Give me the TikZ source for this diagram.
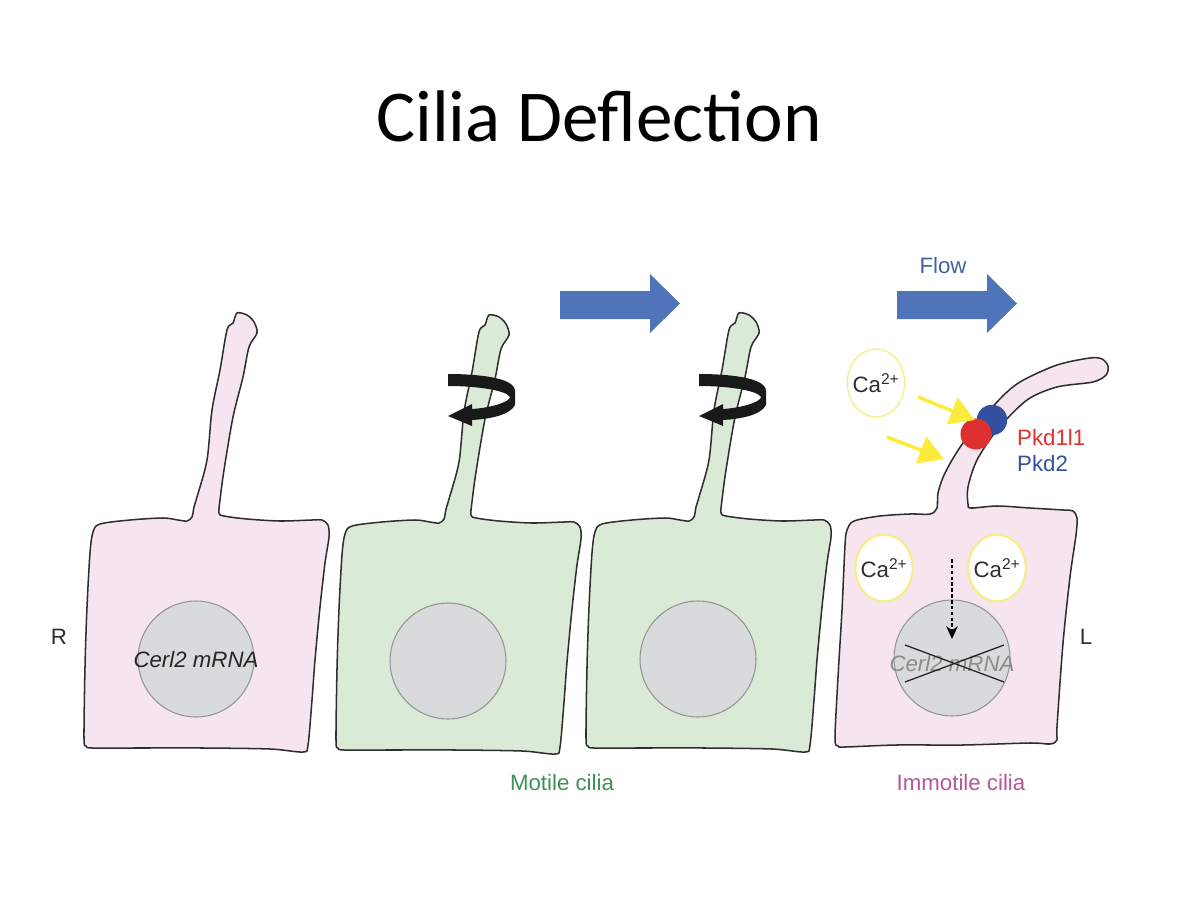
\documentclass[tikz,border=0pt]{standalone}
\usepackage{fontspec}
\setmainfont{Liberation Sans}
\newfontfamily\titlefont{Carlito}
\usetikzlibrary{shapes.geometric,arrows.meta}
\definecolor{cellpink}{HTML}{F6E5EE}
\definecolor{cellgreen}{HTML}{DAEAD6}
\definecolor{nucleusgrey}{HTML}{D9DADC}
\definecolor{flowblue}{HTML}{4F74BA}
\definecolor{caYellow}{HTML}{FBEB3C}
\definecolor{ringYellow}{HTML}{F6EE8E}
\definecolor{outlineInk}{HTML}{2E2E2E}
\definecolor{pkdred}{HTML}{DE3030}
\definecolor{pkdblue}{HTML}{33509F}
\definecolor{motilegreen}{HTML}{3E9156}
\definecolor{immotilepink}{HTML}{B3569A}
\tikzset{
  cellwall/.style={draw=outlineInk,line width=1.3pt,line join=round},
  nucleus/.style={circle,draw=black!42,fill=nucleusgrey,line width=0.9pt,minimum size=99pt,inner sep=0pt},
  flowarrow/.style={fill=flowblue,draw=none},
  spin/.style={fill=black!90,draw=none},
  caoutside/.style={ellipse,draw=ringYellow,fill=white,line width=1.2pt,minimum width=49pt,minimum height=58pt,inner sep=0pt},
  cainside/.style={ellipse,draw=ringYellow,fill=white,line width=1.9pt,minimum width=49pt,minimum height=57pt,inner sep=0pt},
  influx/.style={draw=caYellow,line width=3pt,-{Triangle[length=21pt,width=24pt,fill=caYellow]}},
  lbl/.style={font=\fontsize{19pt}{22pt}\selectfont,inner sep=0pt,text=black!82},
  mrna/.style={font=\fontsize{19pt}{22pt}\selectfont\itshape,inner sep=0pt},
}
% Outline of an upright cell with its straight cilium
\newcommand{\uprightcell}{
  plot[smooth cycle,tension=0.5] coordinates {
    (237,313) (247,315) (254,322) (257,333) (249,347) (243,377) (233,417) (224,470)
    (220,500) (219,513) (224,516) (247,519) (280,521) (312,520) (322,520) (328,525) (329,537)
    (325,563) (320,607) (315,660) (312,700) (308,745) (303,752) (270,749) (203,748)
    (137,748) (92,748) (86,746) (84,738) (85,667) (87,607) (90,553) (93,532) (100,524)
    (130,520) (163,518) (178,520) (187,521) (192,517) (194,507) (197,497) (207,460)
    (212,410) (220,370) (227,330) (233,323)}}
% Rotation arrow around a motile cilium
\newcommand{\spinarrow}{
  (448,374) .. controls (475,374) and (515,377) .. (515,391)
  -- (515,405) .. controls (510,415) and (490,419) .. (472,420)
  -- (472,426) -- (448,416) -- (472,404) -- (472,409)
  .. controls (490,408) and (510,402) .. (510,397)
  .. controls (507,391) and (480,386) .. (448,386) -- cycle}
% Flow arrow pointing to the right, with its tail's left end at the origin
\newcommand{\flowshape}{
  (0,291) -- (90,291) -- (90,274) -- (120,303.5) -- (90,333) -- (90,319) -- (0,319) -- cycle}
% Outline of the cell whose cilium is bent by the flow
\newcommand{\bentcell}{
  plot[smooth cycle,tension=0.5] coordinates {
    (937,508) (938,493) (945,473) (963,443) (997,402) (1020,382) (1057,365)
    (1090,358) (1102,359) (1108,366) (1106,375) (1093,382) (1057,387) (1027,400) (997,430)
    (977,460) (968,487) (968,504) (971,508) (997,506) (1030,508) (1063,510) (1073,511) (1077,518)
    (1076,535) (1070,577) (1063,643) (1057,727) (1057,740) (1050,744) (1030,743) (963,745)
    (897,745) (845,747) (838,746) (835,738) (838,677) (842,610) (845,545) (847,530) (854,521)
    (880,516) (910,514) (930,514)}}
\begin{document}
\begin{tikzpicture}[x=0.03cm,y=-0.03cm]
\useasboundingbox (0,0) rectangle (1200,900);

\node[font=\titlefont\fontsize{62.4pt}{66pt}\selectfont,inner sep=0pt,text=black] (title) at (599,116) {Cilia Deflection};

% Left-most cell
\fill[cellpink] \uprightcell;
\draw[cellwall] \uprightcell;
\node[nucleus] (nucA) at (196,659) {};
\node[mrna,text=black!85] (mrnaA) at (196,660) {Cerl2 mRNA};

% Two cells with motile cilia
\begin{scope}[shift={(252,2)}]
  \fill[cellgreen] \uprightcell;
  \draw[cellwall] \uprightcell;
\end{scope}
\node[nucleus] (nucB) at (448,661) {};
\fill[spin] \spinarrow;

\begin{scope}[shift={(502,0)}]
  \fill[cellgreen] \uprightcell;
  \draw[cellwall] \uprightcell;
\end{scope}
\node[nucleus] (nucC) at (698,659) {};
\begin{scope}[shift={(251,0)}]
  \fill[spin] \spinarrow;
\end{scope}

% Flow arrows
\begin{scope}[shift={(560,0)}]
  \fill[flowarrow] \flowshape;
\end{scope}
\begin{scope}[shift={(897,0)}]
  \fill[flowarrow] \flowshape;
\end{scope}
\node[lbl,text=flowblue!85!black] (flow) at (943,266) {Flow};

% Right-most cell with the bent cilium
\fill[cellpink] \bentcell;
\draw[cellwall] \bentcell;

\node[nucleus] (nucD) at (952,658) {};
\node[mrna,text=black!45] (mrnaD) at (952,664) {Cerl2 mRNA};
\coordinate (crossTL) at (905,645);
\coordinate (crossBR) at (1004,682);
\coordinate (crossBL) at (905,682);
\coordinate (crossTR) at (1004,645);
\draw[line width=1.1pt,black!85] (crossTL) -- (crossBR);
\draw[line width=1.1pt,black!85] (crossBL) -- (crossTR);

% Calcium pools
\node[cainside] (ringIL) at (884,568) {};
\node[lbl] (caIL) at (ringIL) {Ca\textsuperscript{2+}};
\node[cainside] (ringIR) at (997,568) {};
\node[lbl] (caIR) at (ringIR) {Ca\textsuperscript{2+}};
\node[caoutside] (ringO) at (876,383) {};
\node[lbl] (caO) at (ringO) {Ca\textsuperscript{2+}};

\coordinate (decayFrom) at (952,559);
\coordinate (decayTo) at (952,639);
\draw[densely dashed,line width=1pt,black,-{Stealth[length=11pt,width=10pt]}] (decayFrom) -- (decayTo);

% Channel subunits on the cilium
\node[circle,fill=pkdblue,minimum size=26pt,inner sep=0pt] (pkdB) at (992,420) {};
\node[circle,fill=pkdred,minimum size=26.5pt,inner sep=0pt] (pkdR) at (976,434) {};

% Calcium influx arrows
\coordinate (inA) at (918,397);
\coordinate (inAend) at (975,420);
\coordinate (inB) at (887,437);
\coordinate (inBend) at (944,459);
\draw[influx] (inA) -- (inAend);
\draw[influx] (inB) -- (inBend);

% Labels
\node[lbl,text=pkdred,anchor=west] (p1) at (1017,438) {Pkd1l1};
\node[lbl,text=pkdblue,anchor=west] (p2) at (1017,464) {Pkd2};
\node[lbl] (sideR) at (59,637) {R};
\node[lbl] (sideL) at (1086,637) {L};
\node[lbl,text=motilegreen] (motile) at (562,783) {Motile cilia};
\node[lbl,text=immotilepink] (immotile) at (961,783) {Immotile cilia};
\end{tikzpicture}
\end{document}
